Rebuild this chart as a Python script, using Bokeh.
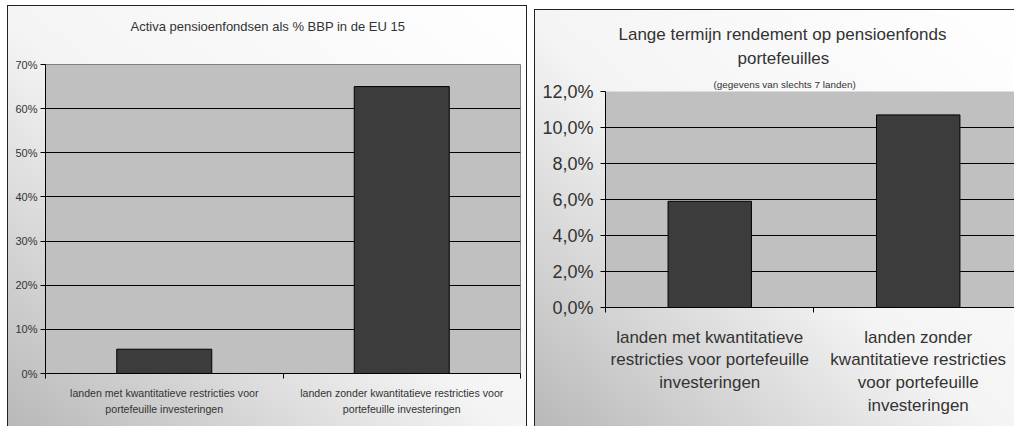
from bokeh.plotting import figure
from bokeh.models import Range1d, FixedTicker, Title
from bokeh.embed import file_html
from bokeh.resources import INLINE

# ---------------- data ----------------
left_categories = ["landen met kwantitatieve restricties voor\nportefeuille investeringen",
                   "landen zonder kwantitatieve restricties voor\nportefeuille investeringen"]
right_categories = ["landen met kwantitatieve\nrestricties voor portefeuille\ninvesteringen",
                    "landen zonder\nkwantitatieve restricties\nvoor portefeuille\ninvesteringen"]
activa_pct = [5.5, 65.0]          # Activa pensioenfondsen als % BBP
rendement_pct = [5.9, 10.7]       # Lange termijn rendement
left_ticks = [0, 10, 20, 30, 40, 50, 60, 70]
left_tick_labels = ["0%", "10%", "20%", "30%", "40%", "50%", "60%", "70%"]
right_ticks = [0, 2, 4, 6, 8, 10, 12]
right_tick_labels = ["0,0%", "2,0%", "4,0%", "6,0%", "8,0%", "10,0%", "12,0%"]

left_title = "Activa pensioenfondsen als % BBP in de EU 15"
right_title_1 = "Lange termijn rendement op pensioenfonds"
right_title_2 = "portefeuilles"
right_subtitle = "(gegevens van slechts 7 landen)"

FONT = "Liberation Sans"
TXT = "#333333"
BAR = "#3c3c3c"
PLOT_BG = "#c0c0c0"
GRAD = "linear-gradient(to top right, #b8b8b8 0%, #cfcfcf 18%, #f4f4f4 48%, #ffffff 100%)"

x_pos = [0.5, 1.5]


def style_fig(p, ticks, tick_labels, cats, ysize, xsize, xstand, ystand, lh):
    p.background_fill_color = PLOT_BG
    p.border_fill_color = None
    p.xgrid.grid_line_color = None
    p.ygrid.grid_line_color = "#000000"
    p.ygrid.grid_line_width = 1
    p.yaxis.ticker = FixedTicker(ticks=ticks, minor_ticks=[])
    p.yaxis.major_label_overrides = {t: l for t, l in zip(ticks, tick_labels)}
    p.xaxis.ticker = FixedTicker(ticks=x_pos, minor_ticks=[0, 1, 2])
    p.xaxis.major_label_overrides = {x: c for x, c in zip(x_pos, cats)}
    for ax in (p.xaxis[0], p.yaxis[0]):
        ax.axis_line_color = "#000000"
        ax.major_label_text_font = FONT
        ax.major_label_text_color = TXT
        ax.major_label_text_font_style = "normal"
    p.yaxis.major_tick_out = 5
    p.yaxis.major_tick_in = 0
    p.yaxis.major_tick_line_color = "#000000"
    p.yaxis.minor_tick_line_color = None
    p.yaxis.major_label_text_font_size = ysize
    p.yaxis.major_label_standoff = ystand
    p.xaxis.major_tick_out = 0
    p.xaxis.major_tick_in = 0
    p.xaxis.minor_tick_out = 5
    p.xaxis.minor_tick_in = 0
    p.xaxis.minor_tick_line_color = "#000000"
    p.xaxis.major_label_text_font_size = xsize
    p.xaxis.major_label_standoff = xstand
    p.xaxis.major_label_text_line_height = lh
    p.xaxis.major_label_orientation = "horizontal"


def add_title(p, text, size, offset, standoff):
    p.add_layout(Title(text=text, align="left", offset=offset, text_font=FONT,
                       text_font_size=size, text_font_style="normal", text_color=TXT,
                       standoff=standoff), "above")


def add_gap(p, standoff):
    # invisible spacer panel between stacked titles
    p.add_layout(Title(text=" ", text_font_size="1px", standoff=standoff), "above")


# ---------------- left chart ----------------
p1 = figure(width=520, height=421, x_range=Range1d(0, 2), y_range=Range1d(0, 70),
            output_backend="svg", toolbar_location=None,
            min_border_left=38, min_border_right=7, min_border_top=59, min_border_bottom=53,
            margin=(5, 0, 0, 7),
            styles={"background": GRAD, "float": "left",
                    "box-shadow": "inset 1px 1px 0 0 #222222, inset -1px 0 0 0 #222222"})
p1.vbar(x=x_pos, top=activa_pct, width=0.4, fill_color=BAR, line_color="#000000", line_width=1)
style_fig(p1, left_ticks, left_tick_labels, left_categories, "11px", "10.6px", 8, 3, 1.41)
p1.outline_line_color = "#808080"
add_gap(p1, 28)
add_title(p1, left_title, "13px", 85, 0)

# ---------------- right chart ----------------
p2 = figure(width=480, height=417, x_range=Range1d(0, 410 / 209), y_range=Range1d(0, 12),
            output_backend="svg", toolbar_location=None,
            min_border_left=71, min_border_right=0, min_border_top=82, min_border_bottom=119,
            margin=(9, 0, 0, 7),
            styles={"background": GRAD, "float": "left",
                    "box-shadow": "inset 1px 1px 0 0 #222222"})
p2.vbar(x=x_pos, top=rendement_pct, width=0.4, fill_color=BAR, line_color="#000000", line_width=1)
style_fig(p2, right_ticks, right_tick_labels, right_categories, "18px", "17px", 15, 7, 1.2)
p2.outline_line_color = None
add_title(p2, right_subtitle, "9.9px", 108, 4)
add_gap(p2, 0)
add_title(p2, right_title_2, "17px", 132, 7)
add_title(p2, right_title_1, "17px", 13, 0)

open("out.html", "w").write(file_html([p1, p2], INLINE))
